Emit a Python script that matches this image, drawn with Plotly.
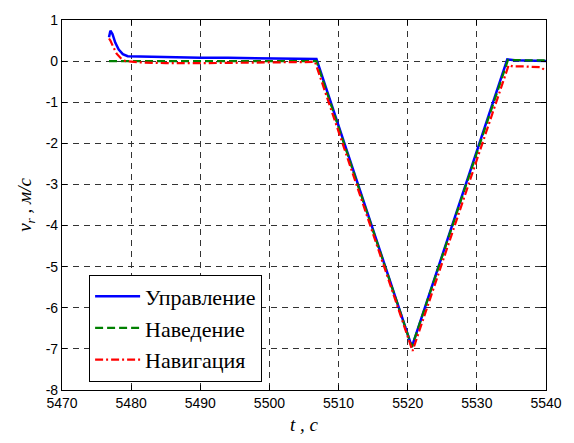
import plotly.graph_objects as go

# Radial velocity time histories
t_upr = [5476.8, 5477.0, 5477.3, 5477.7, 5478.2, 5478.8, 5479.5, 5482.0, 5486.0, 5490.0,
         5494.0, 5498.0, 5502.0, 5506.8, 5520.6, 5534.4, 5535.5, 5537.0, 5540.0]
v_upr = [0.58, 0.74, 0.66, 0.45, 0.28, 0.17, 0.12, 0.11, 0.09, 0.08,
         0.08, 0.07, 0.06, 0.05, -6.95, 0.04, 0.02, 0.01, 0.0]

t_nav = [5476.8, 5490.0, 5506.8, 5520.6, 5534.5, 5537.0, 5540.0]
v_nav = [0.0, 0.0, 0.0, -6.95, 0.03, 0.02, 0.02]

t_navig = [5476.8, 5477.0, 5477.4, 5477.9, 5478.5, 5479.2, 5481.0, 5485.0, 5490.0,
           5495.0, 5500.0, 5503.0, 5506.6, 5520.7, 5534.6, 5535.2, 5537.0, 5539.3, 5539.8]
v_navig = [0.55, 0.5, 0.35, 0.18, 0.07, 0.0, -0.03, -0.05, -0.05,
           -0.04, -0.03, -0.02, -0.02, -7.05, -0.1, -0.13, -0.13, -0.15, -0.22]

names = ["Управление", "Наведение", "Навигация"]
x_ticks = [5470, 5480, 5490, 5500, 5510, 5520, 5530, 5540]
y_ticks = [-8, -7, -6, -5, -4, -3, -2, -1, 0, 1]

serif = "Liberation Serif, Times New Roman, serif"
sans = "Liberation Sans, Arial, sans-serif"

fig = go.Figure()
fig.add_trace(go.Scatter(x=t_upr, y=v_upr, mode="lines", name=names[0],
                         line=dict(color="#0000ff", width=2.5)))
fig.add_trace(go.Scatter(x=t_nav, y=v_nav, mode="lines", name=names[1],
                         line=dict(color="#008000", width=2.2, dash="8px,4px")))
fig.add_trace(go.Scatter(x=t_navig, y=v_navig, mode="lines", name=names[2],
                         line=dict(color="#ff0000", width=2.2, dash="8px,3px,2px,3px")))

axis_common = dict(
    showline=True, linecolor="black", linewidth=1.2, mirror="ticks",
    ticks="inside", ticklen=5, tickcolor="black",
    showgrid=True, gridcolor="#333333", gridwidth=1, griddash="6px,5px",
    zeroline=False,
    tickfont=dict(family=sans, size=14, color="black"),
)

fig.update_xaxes(range=[5470, 5540], tickvals=x_ticks, ticktext=[str(v) for v in x_ticks],
                 title=dict(text="<i>t , c</i>", standoff=7,
                            font=dict(family=serif, size=19, color="black")),
                 **axis_common)
fig.update_yaxes(range=[-8, 1], tickvals=y_ticks, ticktext=[str(v) for v in y_ticks],
                 title=dict(text="<i>v</i><sub><i>r</i></sub><i> , м/с</i>", standoff=8,
                            font=dict(family=serif, size=19, color="black")),
                 **axis_common)

fig.update_layout(
    width=574, height=443,
    margin=dict(l=62, r=27, t=15, b=47),
    plot_bgcolor="white", paper_bgcolor="white",
    showlegend=True,
    legend=dict(x=0.056, y=0.312, xanchor="left", yanchor="top",
                bgcolor="white", bordercolor="black", borderwidth=1,
                font=dict(family=serif, size=22, color="black"),
                itemwidth=45, tracegroupgap=0),
)

fig.write_html("out.html")
